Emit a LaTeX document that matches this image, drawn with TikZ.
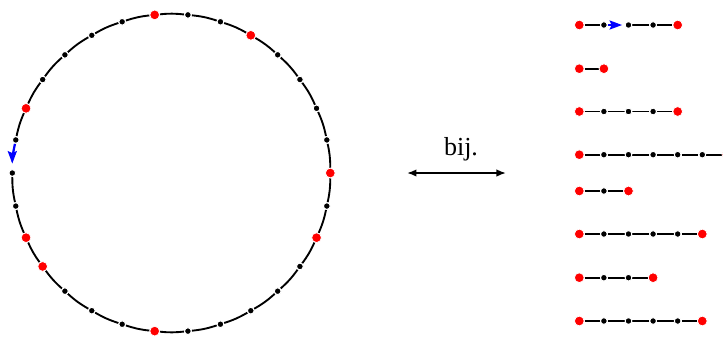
\documentclass[tikz,border=0pt]{standalone}
\usepackage{fontspec}
\setmainfont{Liberation Serif}
\usetikzlibrary{arrows.meta,calc}
\pgfdeclarelayer{bg}
\pgfsetlayers{bg,main}
\begin{document}
\begin{tikzpicture}[x=0.4pt,y=0.4pt,
  reddot/.style={circle,fill=red,draw=white,line width=0.3pt,inner sep=0pt,minimum size=3.9pt},
  blackdot/.style={circle,fill=black,draw=white,line width=0.4pt,inner sep=0pt,minimum size=2.7pt},
  edge/.style={line width=0.75pt},
  bluearrow/.style={blue,line width=0.9pt,-{Stealth[length=5pt,width=3.6pt,inset=0.8pt]}},
  bijarrow/.style={line width=0.7pt,{Latex[length=3.8pt,width=3pt]}-{Latex[length=3.8pt,width=3pt]}},
  lbl/.style={anchor=base,inner sep=0pt,font=\fontsize{10.4}{12}\selectfont}]
\useasboundingbox (0,0) rectangle (723,336);
\coordinate (C) at (171.3,163);
% circle dots
\foreach \k in {1,2,3,4,6,7,9,10,11,12,14,15,16,19,20,21,23,24,25,26,27,29}
  \node[blackdot] (c\k) at ($(C)+(\k*12:159)$) {};
\foreach \k in {0,5,8,13,17,18,22,28}
  \node[reddot] (c\k) at ($(C)+(\k*12:159)$) {};
\begin{pgfonlayer}{bg}
\foreach \k [evaluate=\k as \n using {int(mod(\k+1,30))}] in {0,...,29} {
  \ifnum\k=14\relax\else
    \draw[edge] (c\k) to[bend right=6] (c\n);
  \fi
}
\draw[bluearrow,shorten >=2.2pt] (c14) to[bend right=6] (c15);
\end{pgfonlayer}
% rows
\foreach \r/\y/\n in {1/311/4, 2/267.3/1, 3/224.5/4, 4/181.3/6, 5/145/2, 6/102/5, 7/58.3/3, 8/15/5} {
  \foreach \k in {0,...,\n} {
    \ifnum\k=0 \def\st{reddot}\else\ifnum\k=\n \def\st{reddot}\else\def\st{blackdot}\fi\fi
    \node[\st] (r\r-\k) at ({579.3+\k*24.6},\y) {};
  }
  \begin{pgfonlayer}{bg}
  \foreach \k [evaluate=\k as \p using {int(\k-1)}] in {1,...,\n} {
    \ifnum\r=1 \ifnum\k=2 \def\skipit{1}\else\def\skipit{0}\fi\else\def\skipit{0}\fi
    \ifnum\skipit=0 \draw[edge] (r\r-\p) -- (r\r-\k);\fi
  }
  \end{pgfonlayer}
}
\begin{pgfonlayer}{bg}
\draw[bluearrow,shorten >=1pt] (r1-1) -- (r1-2);
\end{pgfonlayer}
% bijection arrow
\coordinate (bl) at (407,163);
\coordinate (br) at (506,163);
\draw[bijarrow] (bl) -- (br);
\node[lbl] (bij) at (461,181) {bij.};
\end{tikzpicture}
\end{document}
